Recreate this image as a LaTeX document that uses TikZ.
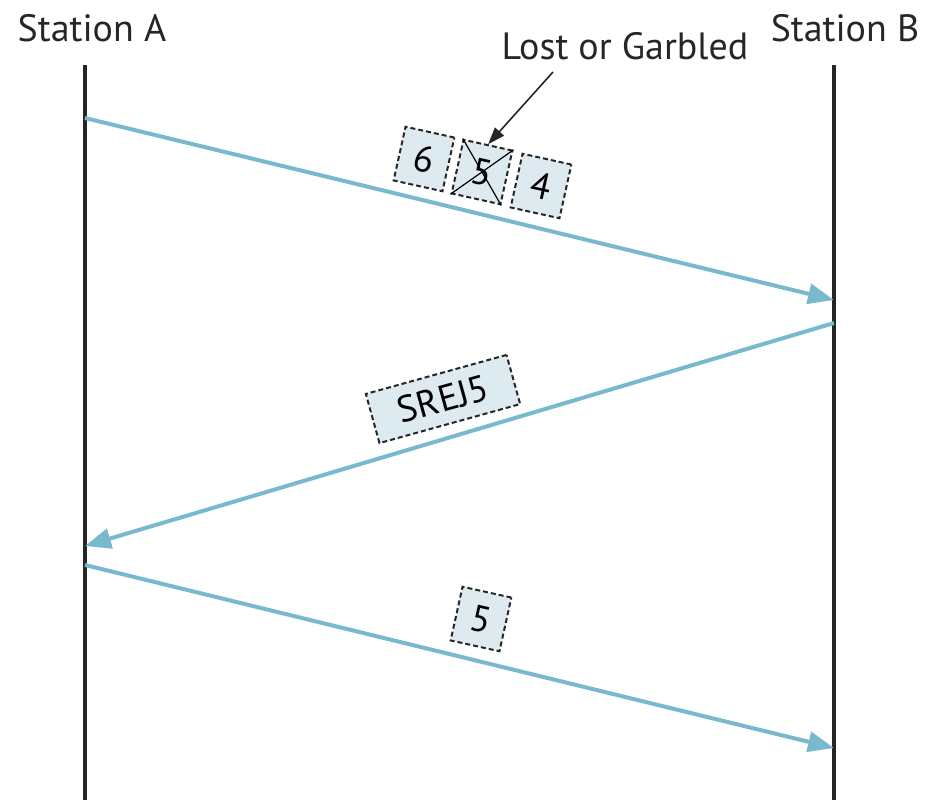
\documentclass[tikz,border=0pt]{standalone}
\usepackage{fontspec}
\setmainfont{PT Sans}
\usetikzlibrary{arrows.meta}
\definecolor{linkblue}{HTML}{78B9CE}
\definecolor{framefill}{HTML}{DDEBF0}
\begin{document}
\begin{tikzpicture}[x=1pt,y=-1pt,
  station/.style={line width=3.2pt,draw=black!85},
  msg/.style={line width=4pt,draw=linkblue,-{Triangle[length=26pt,width=20pt]}},
  frame/.style={draw=black!85,dash pattern=on 5pt off 3pt,line width=2pt,fill=framefill,
    inner sep=0pt,font=\fontsize{37}{39}\selectfont},
  label/.style={font=\fontsize{38}{40}\selectfont,inner sep=0pt,text=black!85}]
\useasboundingbox (0,0) rectangle (937,800);
% station labels and time lines
\node[label] (sa) at (92,28) {Station A};
\node[label] (sb) at (845,28) {Station B};
\coordinate (a0) at (85,65);  \coordinate (a1) at (85,800);
\coordinate (b0) at (834,65); \coordinate (b1) at (834,800);
\draw[station] (a0) -- (a1);
\draw[station] (b0) -- (b1);
% message end points
\coordinate (s1) at (85,118);  \coordinate (r1) at (834,300);
\coordinate (s2) at (834,323); \coordinate (r2) at (85,546);
\coordinate (s3) at (85,565);  \coordinate (r3) at (834,748);
\draw[msg] (s1) -- (r1);
\draw[msg] (s2) -- (r2);
\draw[msg] (s3) -- (r3);
% frames on the first transmission
\node[frame,rotate=-12.5,minimum width=50pt,minimum height=55pt] (f6) at (424,159) {6};
\node[frame,rotate=-12.5,minimum width=50pt,minimum height=55pt] (f5) at (482,172) {5};
\node[frame,rotate=-12.5,minimum width=50pt,minimum height=55pt] (f4) at (541,186) {4};
\draw[line width=1.2pt] (f5.north west) -- (f5.south east);
\draw[line width=1.2pt] (f5.north east) -- (f5.south west);
% annotation
\node[label] (lost) at (625,46) {Lost or Garbled};
\coordinate (lostfoot) at (553,72);
\draw[line width=1.6pt,draw=black!85,-{Triangle[length=17pt,width=12pt]}] (lostfoot) -- (f5.north);
% selective reject
\node[frame,rotate=15.5,minimum width=146pt,minimum height=51pt] (srej) at (443,399) {SREJ5};
% retransmitted frame
\node[frame,rotate=-12.5,minimum width=50pt,minimum height=55pt] (r5) at (481,619) {5};
\end{tikzpicture}
\end{document}
